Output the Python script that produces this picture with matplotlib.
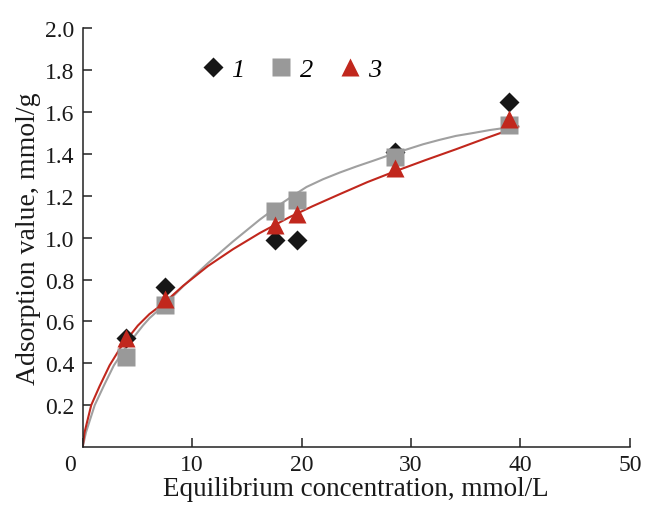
import matplotlib
matplotlib.use("Agg")
import matplotlib.pyplot as plt
from matplotlib.lines import Line2D
from matplotlib.transforms import ScaledTranslation

plt.rcParams['font.family'] = ['Liberation Serif', 'DejaVu Serif']

# Experimental points
x_pts = [4.0, 7.5, 17.6, 19.6, 28.5, 39.0]
s1_y = [0.52, 0.765, 0.99, 0.99, 1.41, 1.65]
s2_y = [0.43, 0.68, 1.125, 1.18, 1.385, 1.54]
s3_y = [0.52, 0.705, 1.06, 1.115, 1.335, 1.565]

# Fitted curves
gray_x = [0, 0.3, 1.1, 2.0, 2.85, 4.0, 5.5, 6.1, 7.66, 9.18, 11.46, 13.74, 16.18, 18.3,
          19.5, 20.45, 21.96, 23.49, 25.01, 26.53, 28.51, 31.1, 32.6, 34.1, 35.7, 37.2, 39.8]
gray_y = [0, 0.07, 0.20, 0.30, 0.39, 0.48, 0.58, 0.615, 0.689, 0.768, 0.879, 0.982, 1.086,
          1.168, 1.21, 1.242, 1.279, 1.311, 1.34, 1.367, 1.403, 1.446, 1.467, 1.486, 1.50,
          1.514, 1.533]
red_x = [0, 0.17, 0.78, 1.54, 2.46, 3.52, 5.04, 6.1, 7.48, 9.18, 11.46, 13.74, 16.18,
         18.9, 21.0, 23.5, 26.0, 28.5, 31.3, 34.1, 37.0, 39.8]
red_y = [0, 0.07, 0.20, 0.29, 0.39, 0.48, 0.58, 0.635, 0.69, 0.77, 0.865, 0.945, 1.022,
         1.098, 1.15, 1.208, 1.265, 1.316, 1.37, 1.422, 1.478, 1.53]

labels = ['1', '2', '3']
x_ticks = [0, 10, 20, 30, 40, 50]
y_ticks = [0.2, 0.4, 0.6, 0.8, 1.0, 1.2, 1.4, 1.6, 1.8, 2.0]

c_black = '#161616'
c_gray = '#999999'
c_red = '#c1271d'
c_gray_line = '#a0a0a0'

fig = plt.figure(figsize=(6.46, 5.06), dpi=100)
ax = fig.add_axes([0.128, 0.1146, 0.847, 0.8275])

ax.plot(gray_x, gray_y, color=c_gray_line, lw=1.5, zorder=2, solid_joinstyle='round')
ax.plot(red_x, red_y, color=c_red, lw=1.5, zorder=2, solid_joinstyle='round')

ax.plot(x_pts, s1_y, linestyle='none', marker='D', ms=10.2, color=c_black, mec='none', zorder=3)
ax.plot(x_pts, s2_y, linestyle='none', marker='s', ms=12.7, color=c_gray, mec='none', zorder=4)
ax.plot(x_pts, s3_y, linestyle='none', marker='^', ms=13.0, color=c_red, mec='none', zorder=5)

ax.set_xlim(0, 50)
ax.set_ylim(0, 2.0)
ax.set_xticks(x_ticks)
ax.set_yticks(y_ticks)
ax.set_xticklabels([str(v) for v in x_ticks])
ax.set_yticklabels(['%.1f' % v for v in y_ticks])

for s in ['top', 'right']:
    ax.spines[s].set_visible(False)
for s in ['left', 'bottom']:
    ax.spines[s].set_color('#222222')
    ax.spines[s].set_linewidth(1.1)

ax.tick_params(direction='in', length=6.5, width=1.1, color='#222222',
               labelsize=17, labelcolor='#1a1a1a', pad=6)
ax.tick_params(axis='x', pad=5)

# shift the x "0" label a bit left, as in the reference
lab0 = ax.xaxis.get_major_ticks()[0].label1
lab0.set_transform(lab0.get_transform() + ScaledTranslation(-13 / 100, 0, fig.dpi_scale_trans))

ax.set_xlabel('Equilibrium concentration, mmol/L', fontsize=19.5, color='#1a1a1a', labelpad=0.5)
ax.set_ylabel('Adsorption value, mmol/g', fontsize=20, color='#1a1a1a', labelpad=3)

handles = [
    Line2D([], [], linestyle='none', marker='D', ms=10.2, color=c_black, mec='none'),
    Line2D([], [], linestyle='none', marker='s', ms=12.7, color=c_gray, mec='none'),
    Line2D([], [], linestyle='none', marker='^', ms=13.0, color=c_red, mec='none'),
]
leg = ax.legend(handles, labels, ncol=3, frameon=False, loc='center left',
                bbox_to_anchor=(0.218, 0.902),
                prop={'family': 'Liberation Serif', 'style': 'italic', 'size': 19},
                handlelength=0.8, handletextpad=0.3, columnspacing=1.0,
                borderpad=0, borderaxespad=0)

fig.savefig('out.png', dpi=100)
